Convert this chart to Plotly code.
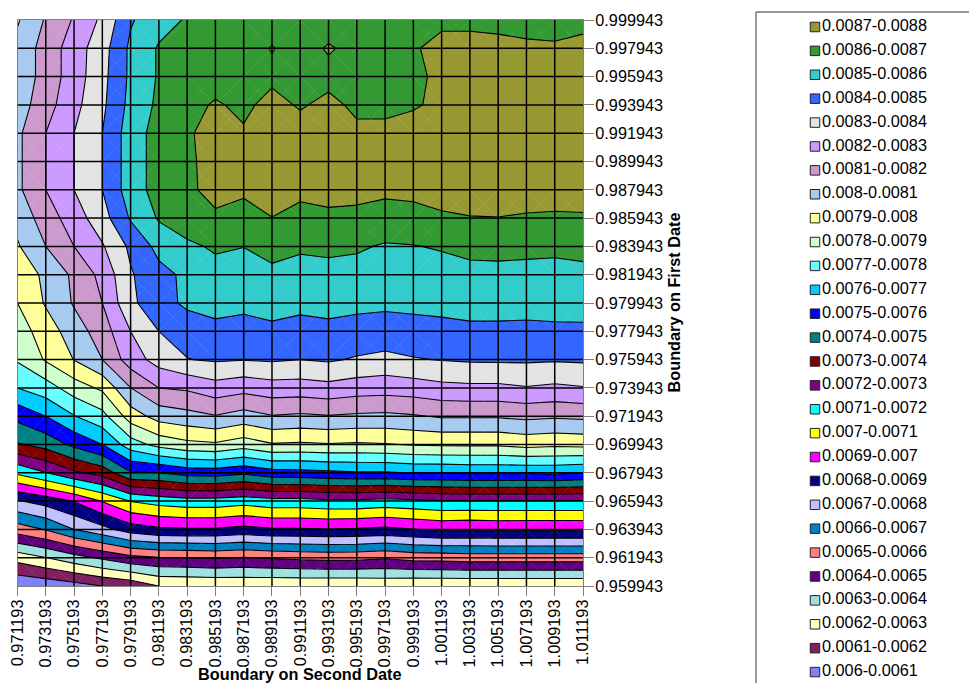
import plotly.graph_objects as go

x_labels = ["0.971193","0.973193","0.975193","0.977193","0.979193","0.981193","0.983193","0.985193","0.987193","0.989193","0.991193","0.993193","0.995193","0.997193","0.999193","1.001193","1.003193","1.005193","1.007193","1.009193","1.011193"]
y_labels = ["0.959943","0.961943","0.963943","0.965943","0.967943","0.969943","0.971943","0.973943","0.975943","0.977943","0.979943","0.981943","0.983943","0.985943","0.987943","0.989943","0.991943","0.993943","0.995943","0.997943","0.999943"]
x_vals = [float(v) for v in x_labels]
y_vals = [float(v) for v in y_labels]

r00 = [.00601,.00603,.00606,.0061,.00613,.0062,.006205,.00621,.006215,.00621,.00621,.00621,.00621,.00622,.00621,.00621,.00621,.00621,.00621,.00621,.00621]
r01 = [.00624,.006297,.00636,.006418,.006473,.006495,.0065,.00651,.006495,.00651,.006522,.00653,.006528,.00651,.006535,.00654,.00655,.00655,.00655,.00655,.00655]
r02 = [.00655,.006607,.0067,.006767,.006848,.006881,.006889,.006889,.006868,.006889,.006889,.006896,.006889,.006877,.006896,.006915,.006906,.006915,.006912,.006912,.006912]
r03 = [.00679,.00684,.006905,.007005,.007104,.00714,.00716,.00716,.00714,.007164,.007164,.00718,.00718,.007164,.007177,.007193,.007193,.007193,.007193,.007193,.007193]
r04 = [.00712,.007198,.007283,.00734,.00749,.0075,.00754,.007547,.007518,.00756,.007565,.007578,.00759,.00759,.007605,.007605,.007615,.007615,.007615,.00762,.0076]
r05 = [.00739,.007437,.007524,.0076,.007753,.007833,.007872,.007885,.007847,.007892,.007885,.007893,.007887,.007893,.007907,.007914,.007914,.007914,.007933,.007922,.007929]
r06 = [.00753,.0076,.007695,.007767,.007948,.00804,.008067,.008095,.00806,.008095,.008084,.008095,.008084,.008079,.008091,.00811,.008111,.008111,.008124,.008114,.008123]
r07 = [.0077,.007754,.00785,.007918,.008099,.0082,.008215,.008258,.008234,.008257,.008254,.008268,.008249,.008242,.008252,.008273,.008279,.008279,.008294,.008281,.008294]
r08 = [.00781,.00791,.008003,.0081,.00825,.00834,.008397,.008412,.008404,.008412,.0084,.008412,.00839,.008372,.008393,.008404,.008412,.008414,.008414,.008409,.008414]
r09 = [.00785,.00795,.00805,.00815,.0083,.0084,.00844,.008478,.00847,.008482,.008471,.008478,.00847,.008465,.00847,.008475,.008482,.008482,.00848,.008483,.008484]
r10 = [.0079,.00801,.00811,.0082,.00838,.00846,.00852,.008528,.00852,.008532,.008521,.008528,.00852,.008515,.00852,.008525,.008532,.008532,.00853,.008533,.008534]
r11 = [.00794,.00802,.00812,.00823,.00839,.00847,.00852,.008564,.008552,.00858,.008564,.00857,.008563,.008545,.00855,.008559,.008574,.008576,.008573,.00857,.008577]
r12 = [.00799,.0081,.0082,.00829,.00842,.00853,.00858,.008614,.008602,.00863,.008614,.00862,.008613,.00859,.008596,.008609,.008624,.008626,.008623,.00862,.008627]
r13 = [.00803,.00815,.00825,.00836,.00851,.00861,.00866,.008683,.008665,.008698,.008671,.008681,.008677,.008666,.008671,.008687,.008696,.008698,.008691,.008688,.00869]
r14 = [.00808,.0082,.0083,.0084,.00855,.00864,.00868,.008733,.008715,.008748,.008721,.008731,.008727,.008716,.008721,.008737,.008746,.008748,.008741,.008738,.00874]
r15 = [.00808,.0082,.0083,.0084,.00855,.00864,.00868,.00874,.00875,.00875,.00875,.00875,.00875,.00875,.00875,.00875,.00875,.00875,.00875,.00875,.00875]
r16 = [.00808,.0082,.0083,.0084,.00855,.00864,.00869,.00873,.00871,.00875,.00874,.00875,.00872,.00873,.00874,.00875,.00875,.00875,.00875,.00875,.00875]
r17 = [.00805,.00816,.00827,.00838,.00853,.00862,.00867,.00871,.00868,.00873,.00869,.008725,.00868,.00867,.00869,.00872,.00875,.00875,.00875,.00875,.00875]
r18 = [.00803,.00814,.00825,.00837,.00852,.00861,.00865,.00866,.00865,.00868,.00865,.00867,.00866,.00866,.00868,.00872,.00874,.00874,.00874,.00874,.00874]
r19 = [.00803,.00814,.00825,.00836,.00852,.00861,.00864,.00866,.00866,.008705,.00866,.00871,.00867,.00867,.00869,.00873,.00873,.00872,.00871,.00871,.00872]
r20 = [.00799,.00811,.00821,.00832,.00849,.00856,.00861,.00864,.00865,.00866,.00866,.00865,.00866,.00866,.00866,.00868,.00868,.00868,.00868,.00867,.00868]
z_grid = [r00,r01,r02,r03,r04,r05,r06,r07,r08,r09,r10,r11,r12,r13,r14,r15,r16,r17,r18,r19,r20]

band_labels = ["0.0087-0.0088","0.0086-0.0087","0.0085-0.0086","0.0084-0.0085","0.0083-0.0084","0.0082-0.0083","0.0081-0.0082","0.008-0.0081","0.0079-0.008","0.0078-0.0079","0.0077-0.0078","0.0076-0.0077","0.0075-0.0076","0.0074-0.0075","0.0073-0.0074","0.0072-0.0073","0.0071-0.0072","0.007-0.0071","0.0069-0.007","0.0068-0.0069","0.0067-0.0068","0.0066-0.0067","0.0065-0.0066","0.0064-0.0065","0.0063-0.0064","0.0062-0.0063","0.0061-0.0062","0.006-0.0061"]
band_colors = ["#999933","#339933","#33CCCC","#3366FF","#E3E3E3","#CC99FF","#CC99CC","#A6CAF0","#FFFF99","#CCFFCC","#66FFFF","#00CCFF","#0000FF","#008080","#800000","#800080","#00FFFF","#FFFF00","#FF00FF","#000080","#C0C0FF","#0080C0","#FF8080","#600080","#A0E0E0","#FFFFC0","#802060","#8080FF"]

W, H = 969, 683
FONT = "Liberation Sans"
FS = 16.3
LEVEL_START, LEVEL_END, LEVEL_STEP = 0.006, 0.0088, 0.0001

def fx(p):
    return p / W

def fy(p):
    return 1 - p / H

asc = band_colors[::-1]
n = len(asc)
colorscale = []
for i, c in enumerate(asc):
    colorscale.append([i / n, c])
    colorscale.append([(i + 1) / n, c])

fig = go.Figure()
fig.add_trace(go.Contour(
    x=x_vals, y=y_vals, z=z_grid,
    zmin=LEVEL_START, zmax=LEVEL_END, autocontour=False,
    contours=dict(start=LEVEL_START, end=LEVEL_END, size=LEVEL_STEP, coloring="fill", showlines=True),
    colorscale=colorscale, showscale=False,
    line=dict(color="#000000", width=1.1, smoothing=0),
    xaxis="x", yaxis="y",
))

# Faint seams that the original shows across grid cells crossed by a contour.
seam_x, seam_y = [], []
for j in range(len(y_vals) - 1):
    for i in range(len(x_vals) - 1):
        corners = [z_grid[j][i], z_grid[j][i + 1], z_grid[j + 1][i], z_grid[j + 1][i + 1]]
        if int(min(corners) / LEVEL_STEP) != int(max(corners) / LEVEL_STEP):
            seam_x += [x_vals[i], x_vals[i + 1], None, x_vals[i], x_vals[i + 1], None]
            seam_y += [y_vals[j], y_vals[j + 1], None, y_vals[j + 1], y_vals[j], None]
fig.add_trace(go.Scatter(
    x=seam_x, y=seam_y, mode="lines", line=dict(color="rgba(255,255,255,0.15)", width=0.7),
    xaxis="x", yaxis="y", showlegend=False, hoverinfo="skip",
))
fig.add_trace(go.Scatter(
    x=[0] * n, y=list(range(n)), mode="markers+text",
    text=band_labels, textposition="middle right",
    textfont=dict(family=FONT, size=FS, color="#000000"),
    marker=dict(symbol="square", size=9.5, color=band_colors, line=dict(color="#222222", width=1)),
    xaxis="x2", yaxis="y2", showlegend=False, hoverinfo="text",
))

shapes = []
for v in x_vals[1:-1]:
    shapes.append(dict(type="line", xref="x", yref="y", x0=v, x1=v, y0=y_vals[0], y1=y_vals[-1],
                       line=dict(color="#000000", width=1.5), layer="above"))
for v in y_vals[1:-1]:
    shapes.append(dict(type="line", xref="x", yref="y", x0=x_vals[0], x1=x_vals[-1], y0=v, y1=v,
                       line=dict(color="#000000", width=1.5), layer="above"))
shapes.append(dict(type="rect", xref="paper", yref="paper", x0=fx(756), x1=1.02, y0=-0.02, y1=fy(12),
                   line=dict(color="#333333", width=1), fillcolor="rgba(0,0,0,0)", layer="below"))

fig.update_layout(
    width=W, height=H, autosize=False,
    margin=dict(l=0, r=0, t=0, b=0, pad=0, autoexpand=False),
    paper_bgcolor="white", plot_bgcolor="white", showlegend=False,
    font=dict(family=FONT, size=FS, color="#000000"),
    xaxis=dict(domain=[fx(17.5), fx(583)], range=[x_vals[0], x_vals[-1]], anchor="y",
               tickmode="array", tickvals=x_vals, ticktext=x_labels, tickangle=-90, ticklabeloverflow="allow",
               ticks="outside", ticklen=9, tickcolor="#808080", tickwidth=1, ticklabelstandoff=-3,
               showline=True, linecolor="#808080", linewidth=1, mirror=True,
               showgrid=False, zeroline=False, tickfont=dict(family=FONT, size=FS)),
    yaxis=dict(domain=[fy(586), fy(20)], range=[y_vals[0], y_vals[-1]], anchor="x", side="right",
               tickmode="array", tickvals=y_vals, ticktext=y_labels, ticklabeloverflow="allow",
               ticks="outside", ticklen=10, tickcolor="#808080", tickwidth=1, ticklabelstandoff=-2,
               showline=True, linecolor="#808080", linewidth=1, mirror=True,
               showgrid=False, zeroline=False, tickfont=dict(family=FONT, size=FS)),
    xaxis2=dict(domain=[fx(756), 1], range=[-59, 154], anchor="y2", visible=False),
    yaxis2=dict(domain=[0, fy(12)], range=[27.458, -0.628], anchor="x2", visible=False),
    shapes=shapes,
    annotations=[
        dict(text="<b>Boundary on Second Date</b>", xref="paper", yref="paper", x=fx(300), y=fy(673.5),
             xanchor="center", yanchor="middle", showarrow=False, font=dict(family=FONT, size=FS)),
        dict(text="<b>Boundary on First Date</b>", xref="paper", yref="paper", x=fx(673), y=fy(302.5),
             xanchor="center", yanchor="middle", textangle=-90, showarrow=False, font=dict(family=FONT, size=FS)),
    ],
)
page_css = """
document.documentElement.style.margin = '0';
document.documentElement.style.padding = '0';
document.documentElement.style.overflow = 'hidden';
document.body.style.margin = '0';
document.body.style.padding = '0';
document.body.style.overflow = 'hidden';
"""
fig.write_html("out.html", config={"displayModeBar": False}, post_script=page_css)
